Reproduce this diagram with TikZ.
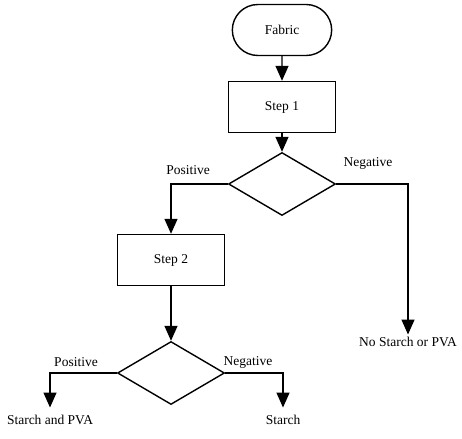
\documentclass[tikz,border=0pt]{standalone}
\usepackage{fontspec}
\setmainfont{Liberation Serif}
\usetikzlibrary{arrows.meta,shapes.geometric,shapes.misc,positioning}

\begin{document}
\begin{tikzpicture}[x=1pt,y=-1pt,line width=1.4pt,
    >={Triangle[width=13pt,length=15pt]},
    font=\fontsize{13.5}{16}\selectfont,
    start node/.style={rounded rectangle,draw,minimum width=106pt,minimum height=51pt},
    step node/.style={rectangle,draw,minimum width=107pt,minimum height=51pt},
    test node/.style={diamond,draw,minimum width=107pt,minimum height=63pt,inner sep=0pt},
    result node/.style={inner sep=2pt}]
    \useasboundingbox (0,0) rectangle (462,438);
    \node[start node] (fabric) at (282,30) {Fabric};
    \node[step node] (step1) at (282,107) {Step 1};
    \node[test node] (test1) at (282,184) {};
    \node[step node] (step2) at (171,260) {Step 2};
    \node[test node] (test2) at (171,373) {};
    \node[result node] (none) at (408,342) {No Starch or PVA};
    \node[result node] (both) at (50,420) {Starch and PVA};
    \node[result node] (starch) at (283,420) {Starch};
    \node (pos1) at (188,170) {Positive};
    \node (neg1) at (368,163) {Negative};
    \node (pos2) at (76,362) {Positive};
    \node (neg2) at (248,362) {Negative};
    \draw[->] (fabric) -- (step1);
    \draw[->] (step1) -- (test1);
    \draw[->] (test1.west) -| (step2.north);
    \draw[->] (test1.east) -| (none.north);
    \draw[->] (step2) -- (test2);
    \draw[->,shorten >=5pt] (test2.west) -| (both.north);
    \draw[->,shorten >=5pt] (test2.east) -| (starch.north);
\end{tikzpicture}
\end{document}
